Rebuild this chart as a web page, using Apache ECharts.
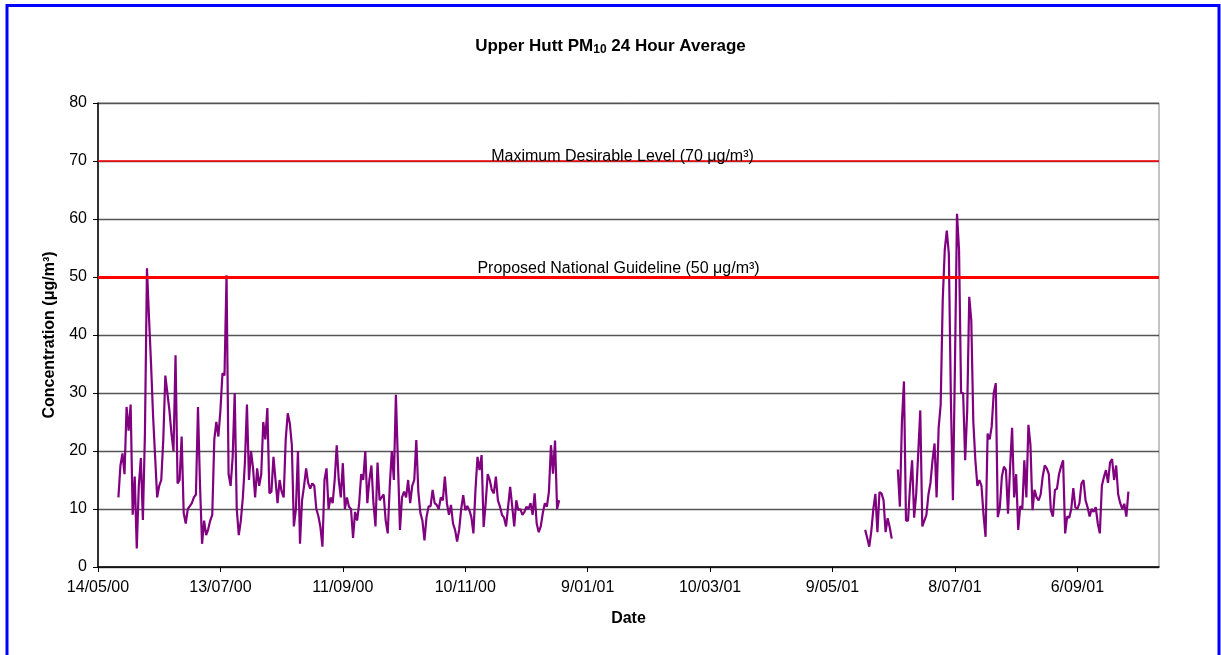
<!DOCTYPE html>
<html><head><meta charset="utf-8">
<script src="https://cdn.jsdelivr.net/npm/echarts@6/dist/echarts.min.js"></script>
<style>html,body{margin:0;padding:0;background:#fff}#c{width:1221px;height:655px}</style>
</head><body><div id="c"></div>
<script>
// Axis definition
const axisStartDate = '2000-05-14';
const axisSpanDays = 520;
const tickStepDays = 60;
const yTicks = [0, 10, 20, 30, 40, 50, 60, 70, 80];

// Daily PM10 24-hour averages (µg/m3), in consecutive-day segments
const seg1Start = '2000-05-24';
const seg1Values = [
  12, 17.5, 19.6, 16, 27.6, 23.5, 28, 9, 15.6, 3.2,
  14, 18.8, 8.1, 23, 51.5, 43, 35, 26, 19, 12,
  14, 15, 22, 33, 30, 27, 23, 20, 36.5, 14.4,
  15, 22.5, 9.3, 7.5, 10, 10.5, 11, 12, 12.5, 27.6,
  14, 4, 8, 5.5, 6.5, 8, 9, 22, 25, 22.5,
  27, 33.4, 33, 50.3, 16, 14, 19, 30, 10, 5.5,
  8, 12, 18, 28, 15, 20, 17, 12, 17, 14,
  16, 25, 22, 27.4, 12.7, 13, 19, 15, 11, 15,
  13, 12, 22, 26.5, 24.8, 21, 7, 10, 20, 4,
  11.5, 14, 17, 14.5, 13.5, 14.4, 14, 10, 8.8, 6.9,
  3.5, 15, 17, 10, 12, 11, 15, 21, 15, 12,
  17.9, 10, 12, 10.4, 10, 5, 9.5, 8, 11, 16,
  15, 20, 11, 15, 17.5, 11, 7, 18, 11.5, 12,
  12.5, 8, 5.8, 14, 20, 15, 29.7, 18, 6.4, 12,
  13, 12, 15, 11, 14, 15, 21.9, 13, 9.3, 8,
  4.6, 8.6, 10.4, 10.5, 13.3, 11, 10.7, 10, 12, 11.5,
  15.6, 11, 9, 10.7, 7.5, 6.4, 4.4, 6.4, 10, 12.4,
  9.8, 10.5, 9.8, 8.6, 5.8, 13.3, 19, 16.7, 19.3, 6.9,
  11, 16, 15, 13.3, 12.7, 15.6, 11.5, 10.4, 9, 8.5,
  7, 10.4, 13.8, 10.5, 7, 11.5, 9.8, 10, 9, 9.5,
  10.4, 10, 11, 9, 12.7, 7.5, 6, 7, 9.3, 11,
  10.4, 13, 21, 16.1, 21.8, 10, 11.5
];
const seg2Start = '2001-05-25';
const seg2Values = [6.4, 5, 3.5, 6.2, 10, 12.6, 6, 12.9, 12.7, 11.5, 6, 8.4, 6.9, 4.9];
const seg3Start = '2001-06-10';
const seg3Values = [
  16.8, 10.4, 25, 32, 8, 8, 14, 18.4, 8.5, 12.6,
  19.6, 27, 7, 8, 9, 12.5, 14.5, 18.4, 21.3, 12,
  24, 28, 46, 54.7, 58, 54, 29, 11.5, 35, 60.9,
  54.7, 30, 30, 18.4, 27, 46.6, 42.5, 25, 18.4, 14,
  15, 14, 9, 5.2, 23, 22, 24.2, 30, 31.7, 8.6,
  10.3, 15.6, 17.3, 16.7, 9.2, 17, 24, 12, 16, 6.4,
  10.5, 10, 18.4, 12, 24.5, 21, 9.8, 13.3, 12, 11.5,
  12.5, 15.6, 17.5, 17, 16, 9.8, 8.7, 13.3, 13.5, 16,
  17.3, 18.4, 5.8, 8.7, 8.5, 10, 13.6, 10.3, 10, 11,
  14.4, 15, 11.5, 10.3, 8.7, 10, 9.5, 10.3, 7.5, 5.8,
  14, 15.5, 16.7, 14.5, 18, 18.6, 15, 17.5, 12.5, 11,
  10, 10.9, 8.7, 13
];

// Reference levels
const guidelineValues = [70, 50];
const guidelineLabels = ['Maximum Desirable Level (70 μg/m³)', 'Proposed National Guideline (50 μg/m³)'];

const DAY = 86400000;
function utc(s) { const p = s.split('-').map(Number); return Date.UTC(p[0], p[1] - 1, p[2]); }
const axisStart = utc(axisStartDate);
function dayNum(s) { return Math.round((utc(s) - axisStart) / DAY); }
function fmtDay(d) {
  const dt = new Date(axisStart + d * DAY);
  return dt.getUTCDate() + '/' + String(dt.getUTCMonth() + 1).padStart(2, '0') + '/' + String(dt.getUTCFullYear() % 100).padStart(2, '0');
}
function segData(start, vals) { const s0 = dayNum(start); return vals.map((v, i) => [s0 + i, v]); }

const tickDays = [];
for (let d = 0; d <= axisSpanDays; d += tickStepDays) tickDays.push(d);

const FONT = 'Liberation Sans, Arial, sans-serif';
const lineStyle = { color: '#800080', width: 2.2 };

function mkSeries(start, vals, withMarks) {
  const s = {
    type: 'line', data: segData(start, vals), showSymbol: false, symbol: 'none',
    lineStyle: lineStyle, itemStyle: { color: '#800080' }, silent: true, z: 3
  };
  if (withMarks) {
    s.markLine = {
      silent: true, symbol: ['none', 'none'], animation: false,
      data: guidelineValues.map((v, i) => ({
        yAxis: v,
        lineStyle: { color: '#ff0000', type: 'solid', width: i === 0 ? 1.5 : 3 },
        label: { show: true, position: 'middle', formatter: guidelineLabels[i], color: '#000', fontSize: 16, fontFamily: FONT, distance: 1, offset: i === 0 ? [-6, 5] : [-10, 1] }
      }))
    };
  }
  return s;
}

const chart = echarts.init(document.getElementById('c'), null, { renderer: 'canvas' });
chart.setOption({
  animation: false,
  backgroundColor: '#fff',
  title: {
    text: '{a|Upper Hutt PM}{s|10}{a| 24 Hour Average}',
    left: 'center', top: 30,
    textStyle: {
      rich: {
        a: { fontSize: 17, fontWeight: 'bold', fontFamily: FONT, color: '#000', lineHeight: 22 },
        s: { fontSize: 12, fontWeight: 'bold', fontFamily: FONT, color: '#000', lineHeight: 22, padding: [8, 0, 0, 0] }
      }
    }
  },
  graphic: [{
    type: 'rect', silent: true, z: 100,
    shape: { x: 7, y: 5.5, width: 1212, height: 700 },
    style: { fill: 'none', stroke: '#0000ff', lineWidth: 3 }
  }],
  grid: { left: 98, right: 62, top: 103, bottom: 88, show: true, borderColor: '#888', borderWidth: 1, containLabel: false },
  xAxis: {
    type: 'value', min: 0, max: axisSpanDays,
    name: 'Date', nameLocation: 'middle', nameGap: 44,
    nameTextStyle: { fontSize: 16, fontWeight: 'bold', fontFamily: FONT, color: '#000' },
    axisLine: { show: true, lineStyle: { color: '#000', width: 1.5 } },
    axisTick: { show: true, customValues: tickDays, length: 5, inside: false, lineStyle: { color: '#000' } },
    axisLabel: { customValues: tickDays, formatter: v => fmtDay(v), fontSize: 16, fontFamily: FONT, color: '#000', margin: 13 },
    splitLine: { show: false }
  },
  yAxis: {
    type: 'value', min: yTicks[0], max: yTicks[yTicks.length - 1], interval: 10,
    name: 'Concentration (μg/m³)', nameLocation: 'middle', nameGap: 40, nameRotate: 90,
    nameTextStyle: { fontSize: 16, fontWeight: 'bold', fontFamily: FONT, color: '#000' },
    axisLine: { show: true, lineStyle: { color: '#000', width: 1.5 } },
    axisTick: { show: true, length: 5, inside: false, lineStyle: { color: '#000' } },
    axisLabel: { fontSize: 16, fontFamily: FONT, color: '#000', margin: 11 },
    splitLine: { show: true, lineStyle: { color: '#555', width: 1.3 } }
  },
  series: [
    mkSeries(seg1Start, seg1Values, true),
    mkSeries(seg2Start, seg2Values, false),
    mkSeries(seg3Start, seg3Values, false)
  ]
});
</script>
</body></html>
